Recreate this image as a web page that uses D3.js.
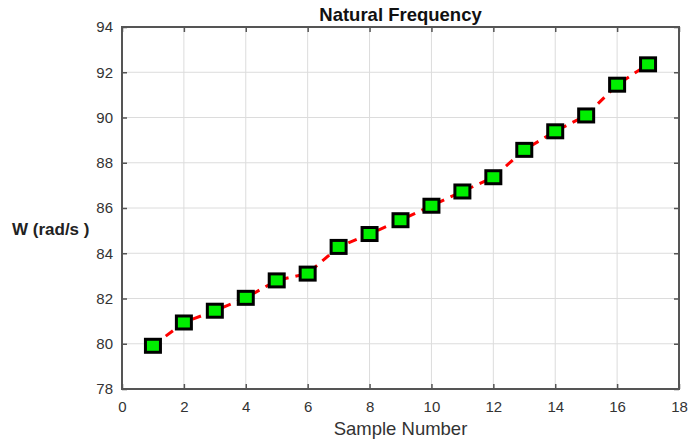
<!DOCTYPE html>
<html>
<head>
<meta charset="utf-8">
<script src="https://cdn.jsdelivr.net/npm/d3@7"></script>
<style>
  body { margin: 0; background: #fff; }
  text { font-family: "Liberation Sans", Arial, sans-serif; }
</style>
</head>
<body>
<div id="chart"></div>
<script>
// data
const samples = [1, 2, 3, 4, 5, 6, 7, 8, 9, 10, 11, 12, 13, 14, 15, 16, 17];
const omega = [79.91, 80.94, 81.46, 82.03, 82.8, 83.1, 84.28, 84.85, 85.46, 86.1, 86.73, 87.36, 88.57, 89.39, 90.09, 91.45, 92.35];
const xTicks = [0, 2, 4, 6, 8, 10, 12, 14, 16, 18];
const yTicks = [78, 80, 82, 84, 86, 88, 90, 92, 94];

const W = 689, H = 442;
const m = { left: 122, right: 10, top: 27, bottom: 53 };

const svg = d3.select("#chart").append("svg").attr("width", W).attr("height", H);

const x = d3.scaleLinear().domain([0, 18]).range([m.left, W - m.right]);
const y = d3.scaleLinear().domain([78, 94]).range([H - m.bottom, m.top]);

// grid
svg.append("g").selectAll("line").data(xTicks).join("line")
    .attr("x1", d => x(d)).attr("x2", d => x(d)).attr("y1", y(78)).attr("y2", y(94))
    .attr("stroke", "#dcdcdc").attr("stroke-width", 1);
svg.append("g").selectAll("line").data(yTicks).join("line")
    .attr("x1", x(0)).attr("x2", x(18)).attr("y1", d => y(d)).attr("y2", d => y(d))
    .attr("stroke", "#dcdcdc").attr("stroke-width", 1);

// axes (ticks pointing in)
const axStyle = g => {
    g.select(".domain").remove();
    g.selectAll(".tick line").attr("stroke", "#555").attr("stroke-width", 1.5);
    g.selectAll(".tick text").attr("fill", "#333").style("font-size", "15px");
};
svg.append("g").attr("transform", `translate(0,${y(78)})`)
    .call(d3.axisBottom(x).tickValues(xTicks).tickSizeInner(-5).tickSizeOuter(0).tickPadding(12))
    .call(axStyle);
svg.append("g").attr("transform", `translate(${x(0)},0)`)
    .call(d3.axisLeft(y).tickValues(yTicks).tickSizeInner(-5).tickSizeOuter(0).tickPadding(9))
    .call(axStyle);
svg.append("g").attr("transform", `translate(0,${y(94)})`)
    .call(d3.axisTop(x).tickValues(xTicks).tickSizeInner(-5).tickSizeOuter(0).tickFormat(""))
    .call(axStyle);
svg.append("g").attr("transform", `translate(${x(18)},0)`)
    .call(d3.axisRight(y).tickValues(yTicks).tickSizeInner(-5).tickSizeOuter(0).tickFormat(""))
    .call(axStyle);

// frame
svg.append("rect")
    .attr("x", x(0)).attr("y", y(94))
    .attr("width", x(18) - x(0)).attr("height", y(78) - y(94))
    .attr("fill", "none").attr("stroke", "#555").attr("stroke-width", 2);

// dashed line
const pts = samples.map((s, i) => [s, omega[i]]);
svg.append("path").datum(pts)
    .attr("fill", "none").attr("stroke", "#ff0000").attr("stroke-width", 3)
    .attr("stroke-dasharray", "9,7")
    .attr("d", d3.line().x(d => x(d[0])).y(d => y(d[1])));

// markers
svg.append("g").selectAll("rect").data(pts).join("rect")
    .attr("x", d => x(d[0]) - 7.5).attr("y", d => y(d[1]) - 6.5)
    .attr("width", 15).attr("height", 13)
    .attr("fill", "#00ee00").attr("stroke", "#000").attr("stroke-width", 3);

// titles
svg.append("text").attr("x", (x(0) + x(18)) / 2).attr("y", 21)
    .attr("text-anchor", "middle").style("font-size", "18.5px").style("font-weight", "bold")
    .attr("fill", "#111").text("Natural Frequency");
svg.append("text").attr("x", (x(0) + x(18)) / 2).attr("y", 435)
    .attr("text-anchor", "middle").style("font-size", "18.5px")
    .attr("fill", "#333").text("Sample Number");
svg.append("text").attr("x", 12).attr("y", 235)
    .style("font-size", "17px").style("font-weight", "bold")
    .attr("fill", "#222").text("W (rad/s )");
</script>
</body>
</html>
